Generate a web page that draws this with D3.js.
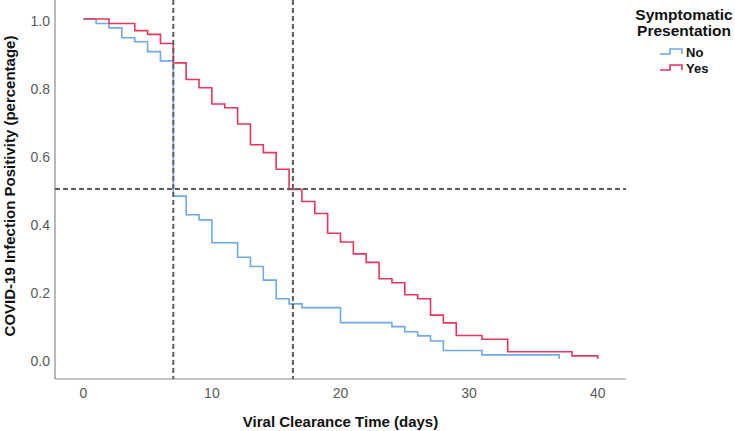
<!DOCTYPE html>
<html>
<head>
<meta charset="utf-8">
<script src="https://cdn.jsdelivr.net/npm/d3@7"></script>
<style>
  body { margin: 0; background: #fff; }
  svg { display: block; font-family: "Liberation Sans", Arial, sans-serif; }
</style>
</head>
<body>
<svg id="chart" width="735" height="431"></svg>
<script>
// Kaplan-Meier step points: time of change (days) and survival after it
const noTimes = [0, 1, 2, 3, 4, 5, 6, 7, 8, 9, 10, 12, 13, 14, 15, 16, 17, 20, 24, 25, 26, 27, 28, 31, 37];
const noSurv  = [1.0, 0.987, 0.974, 0.945, 0.933, 0.904, 0.877, 0.479, 0.424, 0.409, 0.342, 0.299, 0.272, 0.232, 0.177, 0.162, 0.151, 0.107, 0.095, 0.080, 0.068, 0.053, 0.025, 0.012, 0.0];

const yesTimes = [0, 2, 4, 5, 6, 7, 8, 9, 10, 11, 12, 13, 14, 15, 16, 17, 18, 19, 20, 21, 22, 23, 24, 25, 26, 27, 28, 29, 31, 33, 38, 40];
const yesSurv  = [1.0, 0.987, 0.966, 0.955, 0.928, 0.871, 0.822, 0.798, 0.750, 0.739, 0.691, 0.630, 0.607, 0.558, 0.499, 0.463, 0.428, 0.370, 0.344, 0.309, 0.284, 0.236, 0.224, 0.189, 0.177, 0.129, 0.106, 0.069, 0.058, 0.021, 0.009, 0.0];

const xTicks = [0, 10, 20, 30, 40];
const yTicks = [0.0, 0.2, 0.4, 0.6, 0.8, 1.0];
const medianLines = [7, 16.3];
const halfLine = 0.5;

const groups = ["No", "Yes"];
const colors = {No: "#6fa8ec", Yes: "#e6365f"};

const svg = d3.select("#chart");

const x = d3.scaleLinear().domain([-2.2, 42.2]).range([55, 626]);
const y = d3.scaleLinear().domain([-0.059, 1.056]).range([379, 0]);

// axis lines (no ticks)
svg.append("line")
    .attr("x1", x.range()[0]).attr("x2", x.range()[0])
    .attr("y1", 0).attr("y2", 379)
    .attr("stroke", "#8a8a8a").attr("stroke-width", 1.2);
svg.append("line")
    .attr("x1", 55).attr("x2", 626)
    .attr("y1", 379).attr("y2", 379)
    .attr("stroke", "#8a8a8a").attr("stroke-width", 1.2);

svg.append("g")
    .selectAll("text")
    .data(yTicks)
    .join("text")
      .attr("x", 50)
      .attr("y", d => y(d) + 2)
      .attr("dy", "0.35em")
      .attr("text-anchor", "end")
      .attr("font-size", 14)
      .attr("fill", "#5a5a5a")
      .text(d => d.toFixed(1));

svg.append("g")
    .selectAll("text")
    .data(xTicks)
    .join("text")
      .attr("x", d => x(d))
      .attr("y", 398)
      .attr("text-anchor", "middle")
      .attr("font-size", 14)
      .attr("fill", "#5a5a5a")
      .text(d => d);

// curves
const line = d3.line()
    .x(d => x(d[0]))
    .y(d => y(d[1]))
    .curve(d3.curveStepAfter);

const series = [
  {name: "No", pts: d3.zip(noTimes, noSurv)},
  {name: "Yes", pts: d3.zip(yesTimes, yesSurv)}
];

svg.append("g")
    .attr("fill", "none")
    .attr("stroke-width", 1.6)
  .selectAll("path")
  .data(series)
  .join("path")
    .attr("stroke", d => colors[d.name])
    .attr("d", d => line(d.pts));

// reference lines
const ref = svg.append("g")
    .attr("stroke", "#5e5e5e")
    .attr("stroke-width", 2)
    .attr("stroke-dasharray", "5,3");

ref.selectAll("line.v")
  .data(medianLines)
  .join("line")
    .attr("class", "v")
    .attr("x1", d => x(d)).attr("x2", d => x(d))
    .attr("y1", 0).attr("y2", 379);

ref.append("line")
    .attr("x1", 55).attr("x2", 626)
    .attr("y1", y(halfLine)).attr("y2", y(halfLine));

// axis titles
svg.append("text")
    .attr("x", (55 + 626) / 2)
    .attr("y", 427)
    .attr("text-anchor", "middle")
    .attr("font-size", 15)
    .attr("font-weight", "bold")
    .attr("fill", "#111")
    .text("Viral Clearance Time (days)");

svg.append("text")
    .attr("transform", "translate(15,186) rotate(-90)")
    .attr("text-anchor", "middle")
    .attr("font-size", 15)
    .attr("font-weight", "bold")
    .attr("fill", "#111")
    .text("COVID-19 Infection Positivity (percentage)");

// legend
const legend = svg.append("g");
legend.append("text")
    .attr("x", 684).attr("y", 20)
    .attr("text-anchor", "middle")
    .attr("font-size", 15.5)
    .attr("font-weight", "bold")
    .attr("fill", "#111")
    .text("Symptomatic");
legend.append("text")
    .attr("x", 684).attr("y", 36)
    .attr("text-anchor", "middle")
    .attr("font-size", 15.5)
    .attr("font-weight", "bold")
    .attr("fill", "#111")
    .text("Presentation");

const item = legend.selectAll("g.item")
  .data(groups)
  .join("g")
    .attr("class", "item")
    .attr("transform", (d, i) => `translate(660,${54 + i * 16})`);

item.append("path")
    .attr("fill", "none")
    .attr("stroke", d => colors[d])
    .attr("stroke-width", 1.6)
    .attr("d", "M0,0 H10 V-5 H22 V0");

item.append("text")
    .attr("x", 26)
    .attr("y", 3)
    .attr("font-size", 13)
    .attr("font-weight", "bold")
    .attr("fill", "#111")
    .text(d => d);
</script>
</body>
</html>
